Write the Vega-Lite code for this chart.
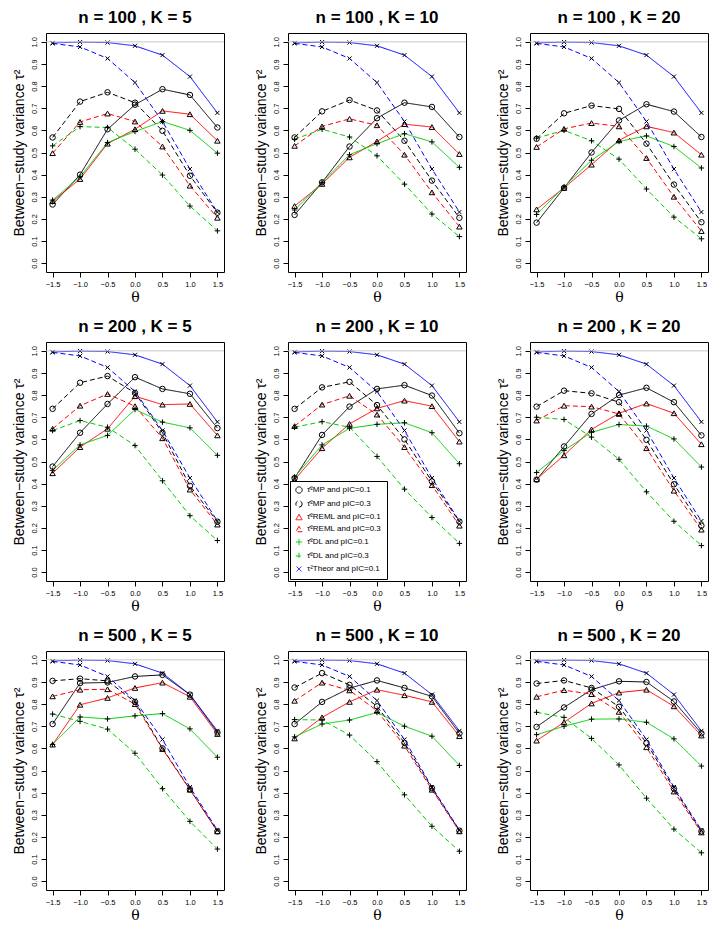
{
"$schema":"https://vega.github.io/schema/vega-lite/v6.json",
"padding":{"left":11,"top":8,"right":2,"bottom":1},
"data":{"values":[
{"p":1,"s":"M1","t":-1.5,"v":0.265},{"p":1,"s":"M1","t":-1,"v":0.400},{"p":1,"s":"M1","t":-0.5,"v":0.605},{"p":1,"s":"M1","t":0,"v":0.716},{"p":1,"s":"M1","t":0.5,"v":0.786},{"p":1,"s":"M1","t":1,"v":0.760},{"p":1,"s":"M1","t":1.5,"v":0.613},
{"p":1,"s":"M3","t":-1.5,"v":0.568},{"p":1,"s":"M3","t":-1,"v":0.730},{"p":1,"s":"M3","t":-0.5,"v":0.772},{"p":1,"s":"M3","t":0,"v":0.725},{"p":1,"s":"M3","t":0.5,"v":0.598},{"p":1,"s":"M3","t":1,"v":0.395},{"p":1,"s":"M3","t":1.5,"v":0.228},
{"p":1,"s":"R1","t":-1.5,"v":0.280},{"p":1,"s":"R1","t":-1,"v":0.380},{"p":1,"s":"R1","t":-0.5,"v":0.540},{"p":1,"s":"R1","t":0,"v":0.605},{"p":1,"s":"R1","t":0.5,"v":0.688},{"p":1,"s":"R1","t":1,"v":0.673},{"p":1,"s":"R1","t":1.5,"v":0.553},
{"p":1,"s":"R3","t":-1.5,"v":0.497},{"p":1,"s":"R3","t":-1,"v":0.638},{"p":1,"s":"R3","t":-0.5,"v":0.676},{"p":1,"s":"R3","t":0,"v":0.640},{"p":1,"s":"R3","t":0.5,"v":0.527},{"p":1,"s":"R3","t":1,"v":0.350},{"p":1,"s":"R3","t":1.5,"v":0.205},
{"p":1,"s":"D1","t":-1.5,"v":0.285},{"p":1,"s":"D1","t":-1,"v":0.390},{"p":1,"s":"D1","t":-0.5,"v":0.545},{"p":1,"s":"D1","t":0,"v":0.595},{"p":1,"s":"D1","t":0.5,"v":0.640},{"p":1,"s":"D1","t":1,"v":0.600},{"p":1,"s":"D1","t":1.5,"v":0.497},
{"p":1,"s":"D3","t":-1.5,"v":0.530},{"p":1,"s":"D3","t":-1,"v":0.617},{"p":1,"s":"D3","t":-0.5,"v":0.613},{"p":1,"s":"D3","t":0,"v":0.515},{"p":1,"s":"D3","t":0.5,"v":0.398},{"p":1,"s":"D3","t":1,"v":0.258},{"p":1,"s":"D3","t":1.5,"v":0.146},
{"p":1,"s":"T1","t":-1.5,"v":0.995},{"p":1,"s":"T1","t":-1,"v":0.999},{"p":1,"s":"T1","t":-0.5,"v":0.997},{"p":1,"s":"T1","t":0,"v":0.982},{"p":1,"s":"T1","t":0.5,"v":0.940},{"p":1,"s":"T1","t":1,"v":0.843},{"p":1,"s":"T1","t":1.5,"v":0.679},
{"p":1,"s":"T3","t":-1.5,"v":0.993},{"p":1,"s":"T3","t":-1,"v":0.977},{"p":1,"s":"T3","t":-0.5,"v":0.925},{"p":1,"s":"T3","t":0,"v":0.816},{"p":1,"s":"T3","t":0.5,"v":0.640},{"p":1,"s":"T3","t":1,"v":0.425},{"p":1,"s":"T3","t":1.5,"v":0.231},

{"p":2,"s":"M1","t":-1.5,"v":0.218},{"p":2,"s":"M1","t":-1,"v":0.365},{"p":2,"s":"M1","t":-0.5,"v":0.527},{"p":2,"s":"M1","t":0,"v":0.655},{"p":2,"s":"M1","t":0.5,"v":0.725},{"p":2,"s":"M1","t":1,"v":0.706},{"p":2,"s":"M1","t":1.5,"v":0.570},
{"p":2,"s":"M3","t":-1.5,"v":0.568},{"p":2,"s":"M3","t":-1,"v":0.686},{"p":2,"s":"M3","t":-0.5,"v":0.737},{"p":2,"s":"M3","t":0,"v":0.690},{"p":2,"s":"M3","t":0.5,"v":0.553},{"p":2,"s":"M3","t":1,"v":0.373},{"p":2,"s":"M3","t":1.5,"v":0.205},
{"p":2,"s":"R1","t":-1.5,"v":0.258},{"p":2,"s":"R1","t":-1,"v":0.358},{"p":2,"s":"R1","t":-0.5,"v":0.478},{"p":2,"s":"R1","t":0,"v":0.550},{"p":2,"s":"R1","t":0.5,"v":0.628},{"p":2,"s":"R1","t":1,"v":0.615},{"p":2,"s":"R1","t":1.5,"v":0.493},
{"p":2,"s":"R3","t":-1.5,"v":0.530},{"p":2,"s":"R3","t":-1,"v":0.618},{"p":2,"s":"R3","t":-0.5,"v":0.652},{"p":2,"s":"R3","t":0,"v":0.623},{"p":2,"s":"R3","t":0.5,"v":0.490},{"p":2,"s":"R3","t":1,"v":0.320},{"p":2,"s":"R3","t":1.5,"v":0.165},
{"p":2,"s":"D1","t":-1.5,"v":0.240},{"p":2,"s":"D1","t":-1,"v":0.365},{"p":2,"s":"D1","t":-0.5,"v":0.490},{"p":2,"s":"D1","t":0,"v":0.540},{"p":2,"s":"D1","t":0.5,"v":0.585},{"p":2,"s":"D1","t":1,"v":0.548},{"p":2,"s":"D1","t":1.5,"v":0.433},
{"p":2,"s":"D3","t":-1.5,"v":0.560},{"p":2,"s":"D3","t":-1,"v":0.605},{"p":2,"s":"D3","t":-0.5,"v":0.570},{"p":2,"s":"D3","t":0,"v":0.485},{"p":2,"s":"D3","t":0.5,"v":0.357},{"p":2,"s":"D3","t":1,"v":0.222},{"p":2,"s":"D3","t":1.5,"v":0.120},
{"p":2,"s":"T1","t":-1.5,"v":0.995},{"p":2,"s":"T1","t":-1,"v":0.999},{"p":2,"s":"T1","t":-0.5,"v":0.997},{"p":2,"s":"T1","t":0,"v":0.982},{"p":2,"s":"T1","t":0.5,"v":0.940},{"p":2,"s":"T1","t":1,"v":0.843},{"p":2,"s":"T1","t":1.5,"v":0.679},
{"p":2,"s":"T3","t":-1.5,"v":0.993},{"p":2,"s":"T3","t":-1,"v":0.977},{"p":2,"s":"T3","t":-0.5,"v":0.925},{"p":2,"s":"T3","t":0,"v":0.816},{"p":2,"s":"T3","t":0.5,"v":0.640},{"p":2,"s":"T3","t":1,"v":0.425},{"p":2,"s":"T3","t":1.5,"v":0.231},

{"p":3,"s":"M1","t":-1.5,"v":0.183},{"p":3,"s":"M1","t":-1,"v":0.340},{"p":3,"s":"M1","t":-0.5,"v":0.500},{"p":3,"s":"M1","t":0,"v":0.645},{"p":3,"s":"M1","t":0.5,"v":0.718},{"p":3,"s":"M1","t":1,"v":0.685},{"p":3,"s":"M1","t":1.5,"v":0.570},
{"p":3,"s":"M3","t":-1.5,"v":0.562},{"p":3,"s":"M3","t":-1,"v":0.677},{"p":3,"s":"M3","t":-0.5,"v":0.712},{"p":3,"s":"M3","t":0,"v":0.697},{"p":3,"s":"M3","t":0.5,"v":0.540},{"p":3,"s":"M3","t":1,"v":0.355},{"p":3,"s":"M3","t":1.5,"v":0.185},
{"p":3,"s":"R1","t":-1.5,"v":0.243},{"p":3,"s":"R1","t":-1,"v":0.340},{"p":3,"s":"R1","t":-0.5,"v":0.445},{"p":3,"s":"R1","t":0,"v":0.555},{"p":3,"s":"R1","t":0.5,"v":0.618},{"p":3,"s":"R1","t":1,"v":0.590},{"p":3,"s":"R1","t":1.5,"v":0.490},
{"p":3,"s":"R3","t":-1.5,"v":0.525},{"p":3,"s":"R3","t":-1,"v":0.607},{"p":3,"s":"R3","t":-0.5,"v":0.633},{"p":3,"s":"R3","t":0,"v":0.618},{"p":3,"s":"R3","t":0.5,"v":0.475},{"p":3,"s":"R3","t":1,"v":0.300},{"p":3,"s":"R3","t":1.5,"v":0.145},
{"p":3,"s":"D1","t":-1.5,"v":0.220},{"p":3,"s":"D1","t":-1,"v":0.345},{"p":3,"s":"D1","t":-0.5,"v":0.465},{"p":3,"s":"D1","t":0,"v":0.550},{"p":3,"s":"D1","t":0.5,"v":0.575},{"p":3,"s":"D1","t":1,"v":0.527},{"p":3,"s":"D1","t":1.5,"v":0.430},
{"p":3,"s":"D3","t":-1.5,"v":0.565},{"p":3,"s":"D3","t":-1,"v":0.600},{"p":3,"s":"D3","t":-0.5,"v":0.553},{"p":3,"s":"D3","t":0,"v":0.470},{"p":3,"s":"D3","t":0.5,"v":0.335},{"p":3,"s":"D3","t":1,"v":0.208},{"p":3,"s":"D3","t":1.5,"v":0.110},
{"p":3,"s":"T1","t":-1.5,"v":0.995},{"p":3,"s":"T1","t":-1,"v":0.999},{"p":3,"s":"T1","t":-0.5,"v":0.997},{"p":3,"s":"T1","t":0,"v":0.982},{"p":3,"s":"T1","t":0.5,"v":0.940},{"p":3,"s":"T1","t":1,"v":0.843},{"p":3,"s":"T1","t":1.5,"v":0.679},
{"p":3,"s":"T3","t":-1.5,"v":0.993},{"p":3,"s":"T3","t":-1,"v":0.977},{"p":3,"s":"T3","t":-0.5,"v":0.925},{"p":3,"s":"T3","t":0,"v":0.816},{"p":3,"s":"T3","t":0.5,"v":0.640},{"p":3,"s":"T3","t":1,"v":0.425},{"p":3,"s":"T3","t":1.5,"v":0.231},

{"p":4,"s":"M1","t":-1.5,"v":0.477},{"p":4,"s":"M1","t":-1,"v":0.630},{"p":4,"s":"M1","t":-0.5,"v":0.760},{"p":4,"s":"M1","t":0,"v":0.881},{"p":4,"s":"M1","t":0.5,"v":0.828},{"p":4,"s":"M1","t":1,"v":0.806},{"p":4,"s":"M1","t":1.5,"v":0.651},
{"p":4,"s":"M3","t":-1.5,"v":0.738},{"p":4,"s":"M3","t":-1,"v":0.856},{"p":4,"s":"M3","t":-0.5,"v":0.886},{"p":4,"s":"M3","t":0,"v":0.810},{"p":4,"s":"M3","t":0.5,"v":0.630},{"p":4,"s":"M3","t":1,"v":0.390},{"p":4,"s":"M3","t":1.5,"v":0.228},
{"p":4,"s":"R1","t":-1.5,"v":0.447},{"p":4,"s":"R1","t":-1,"v":0.565},{"p":4,"s":"R1","t":-0.5,"v":0.648},{"p":4,"s":"R1","t":0,"v":0.795},{"p":4,"s":"R1","t":0.5,"v":0.757},{"p":4,"s":"R1","t":1,"v":0.760},{"p":4,"s":"R1","t":1.5,"v":0.618},
{"p":4,"s":"R3","t":-1.5,"v":0.648},{"p":4,"s":"R3","t":-1,"v":0.752},{"p":4,"s":"R3","t":-0.5,"v":0.805},{"p":4,"s":"R3","t":0,"v":0.750},{"p":4,"s":"R3","t":0.5,"v":0.605},{"p":4,"s":"R3","t":1,"v":0.373},{"p":4,"s":"R3","t":1.5,"v":0.215},
{"p":4,"s":"D1","t":-1.5,"v":0.460},{"p":4,"s":"D1","t":-1,"v":0.575},{"p":4,"s":"D1","t":-0.5,"v":0.618},{"p":4,"s":"D1","t":0,"v":0.735},{"p":4,"s":"D1","t":0.5,"v":0.678},{"p":4,"s":"D1","t":1,"v":0.652},{"p":4,"s":"D1","t":1.5,"v":0.528},
{"p":4,"s":"D3","t":-1.5,"v":0.640},{"p":4,"s":"D3","t":-1,"v":0.685},{"p":4,"s":"D3","t":-0.5,"v":0.655},{"p":4,"s":"D3","t":0,"v":0.572},{"p":4,"s":"D3","t":0.5,"v":0.413},{"p":4,"s":"D3","t":1,"v":0.255},{"p":4,"s":"D3","t":1.5,"v":0.143},
{"p":4,"s":"T1","t":-1.5,"v":0.995},{"p":4,"s":"T1","t":-1,"v":0.999},{"p":4,"s":"T1","t":-0.5,"v":0.997},{"p":4,"s":"T1","t":0,"v":0.982},{"p":4,"s":"T1","t":0.5,"v":0.940},{"p":4,"s":"T1","t":1,"v":0.843},{"p":4,"s":"T1","t":1.5,"v":0.679},
{"p":4,"s":"T3","t":-1.5,"v":0.993},{"p":4,"s":"T3","t":-1,"v":0.977},{"p":4,"s":"T3","t":-0.5,"v":0.925},{"p":4,"s":"T3","t":0,"v":0.816},{"p":4,"s":"T3","t":0.5,"v":0.640},{"p":4,"s":"T3","t":1,"v":0.425},{"p":4,"s":"T3","t":1.5,"v":0.231},

{"p":5,"s":"M1","t":-1.5,"v":0.425},{"p":5,"s":"M1","t":-1,"v":0.620},{"p":5,"s":"M1","t":-0.5,"v":0.748},{"p":5,"s":"M1","t":0,"v":0.828},{"p":5,"s":"M1","t":0.5,"v":0.845},{"p":5,"s":"M1","t":1,"v":0.798},{"p":5,"s":"M1","t":1.5,"v":0.628},
{"p":5,"s":"M3","t":-1.5,"v":0.738},{"p":5,"s":"M3","t":-1,"v":0.835},{"p":5,"s":"M3","t":-0.5,"v":0.860},{"p":5,"s":"M3","t":0,"v":0.755},{"p":5,"s":"M3","t":0.5,"v":0.600},{"p":5,"s":"M3","t":1,"v":0.410},{"p":5,"s":"M3","t":1.5,"v":0.228},
{"p":5,"s":"R1","t":-1.5,"v":0.418},{"p":5,"s":"R1","t":-1,"v":0.560},{"p":5,"s":"R1","t":-0.5,"v":0.670},{"p":5,"s":"R1","t":0,"v":0.740},{"p":5,"s":"R1","t":0.5,"v":0.775},{"p":5,"s":"R1","t":1,"v":0.750},{"p":5,"s":"R1","t":1.5,"v":0.590},
{"p":5,"s":"R3","t":-1.5,"v":0.660},{"p":5,"s":"R3","t":-1,"v":0.757},{"p":5,"s":"R3","t":-0.5,"v":0.797},{"p":5,"s":"R3","t":0,"v":0.712},{"p":5,"s":"R3","t":0.5,"v":0.565},{"p":5,"s":"R3","t":1,"v":0.393},{"p":5,"s":"R3","t":1.5,"v":0.210},
{"p":5,"s":"D1","t":-1.5,"v":0.430},{"p":5,"s":"D1","t":-1,"v":0.575},{"p":5,"s":"D1","t":-0.5,"v":0.650},{"p":5,"s":"D1","t":0,"v":0.668},{"p":5,"s":"D1","t":0.5,"v":0.675},{"p":5,"s":"D1","t":1,"v":0.630},{"p":5,"s":"D1","t":1.5,"v":0.490},
{"p":5,"s":"D3","t":-1.5,"v":0.655},{"p":5,"s":"D3","t":-1,"v":0.680},{"p":5,"s":"D3","t":-0.5,"v":0.655},{"p":5,"s":"D3","t":0,"v":0.523},{"p":5,"s":"D3","t":0.5,"v":0.375},{"p":5,"s":"D3","t":1,"v":0.247},{"p":5,"s":"D3","t":1.5,"v":0.130},
{"p":5,"s":"T1","t":-1.5,"v":0.995},{"p":5,"s":"T1","t":-1,"v":0.999},{"p":5,"s":"T1","t":-0.5,"v":0.997},{"p":5,"s":"T1","t":0,"v":0.982},{"p":5,"s":"T1","t":0.5,"v":0.940},{"p":5,"s":"T1","t":1,"v":0.843},{"p":5,"s":"T1","t":1.5,"v":0.679},
{"p":5,"s":"T3","t":-1.5,"v":0.993},{"p":5,"s":"T3","t":-1,"v":0.977},{"p":5,"s":"T3","t":-0.5,"v":0.925},{"p":5,"s":"T3","t":0,"v":0.816},{"p":5,"s":"T3","t":0.5,"v":0.640},{"p":5,"s":"T3","t":1,"v":0.425},{"p":5,"s":"T3","t":1.5,"v":0.231},

{"p":6,"s":"M1","t":-1.5,"v":0.418},{"p":6,"s":"M1","t":-1,"v":0.568},{"p":6,"s":"M1","t":-0.5,"v":0.715},{"p":6,"s":"M1","t":0,"v":0.800},{"p":6,"s":"M1","t":0.5,"v":0.833},{"p":6,"s":"M1","t":1,"v":0.768},{"p":6,"s":"M1","t":1.5,"v":0.618},
{"p":6,"s":"M3","t":-1.5,"v":0.748},{"p":6,"s":"M3","t":-1,"v":0.820},{"p":6,"s":"M3","t":-0.5,"v":0.808},{"p":6,"s":"M3","t":0,"v":0.768},{"p":6,"s":"M3","t":0.5,"v":0.598},{"p":6,"s":"M3","t":1,"v":0.397},{"p":6,"s":"M3","t":1.5,"v":0.210},
{"p":6,"s":"R1","t":-1.5,"v":0.420},{"p":6,"s":"R1","t":-1,"v":0.528},{"p":6,"s":"R1","t":-0.5,"v":0.645},{"p":6,"s":"R1","t":0,"v":0.718},{"p":6,"s":"R1","t":0.5,"v":0.762},{"p":6,"s":"R1","t":1,"v":0.718},{"p":6,"s":"R1","t":1.5,"v":0.578},
{"p":6,"s":"R3","t":-1.5,"v":0.685},{"p":6,"s":"R3","t":-1,"v":0.752},{"p":6,"s":"R3","t":-0.5,"v":0.748},{"p":6,"s":"R3","t":0,"v":0.715},{"p":6,"s":"R3","t":0.5,"v":0.560},{"p":6,"s":"R3","t":1,"v":0.368},{"p":6,"s":"R3","t":1.5,"v":0.192},
{"p":6,"s":"D1","t":-1.5,"v":0.450},{"p":6,"s":"D1","t":-1,"v":0.550},{"p":6,"s":"D1","t":-0.5,"v":0.632},{"p":6,"s":"D1","t":0,"v":0.667},{"p":6,"s":"D1","t":0.5,"v":0.660},{"p":6,"s":"D1","t":1,"v":0.602},{"p":6,"s":"D1","t":1.5,"v":0.475},
{"p":6,"s":"D3","t":-1.5,"v":0.700},{"p":6,"s":"D3","t":-1,"v":0.690},{"p":6,"s":"D3","t":-0.5,"v":0.610},{"p":6,"s":"D3","t":0,"v":0.510},{"p":6,"s":"D3","t":0.5,"v":0.363},{"p":6,"s":"D3","t":1,"v":0.230},{"p":6,"s":"D3","t":1.5,"v":0.120},
{"p":6,"s":"T1","t":-1.5,"v":0.995},{"p":6,"s":"T1","t":-1,"v":0.999},{"p":6,"s":"T1","t":-0.5,"v":0.997},{"p":6,"s":"T1","t":0,"v":0.982},{"p":6,"s":"T1","t":0.5,"v":0.940},{"p":6,"s":"T1","t":1,"v":0.843},{"p":6,"s":"T1","t":1.5,"v":0.679},
{"p":6,"s":"T3","t":-1.5,"v":0.993},{"p":6,"s":"T3","t":-1,"v":0.977},{"p":6,"s":"T3","t":-0.5,"v":0.925},{"p":6,"s":"T3","t":0,"v":0.816},{"p":6,"s":"T3","t":0.5,"v":0.640},{"p":6,"s":"T3","t":1,"v":0.425},{"p":6,"s":"T3","t":1.5,"v":0.231},

{"p":7,"s":"M1","t":-1.5,"v":0.710},{"p":7,"s":"M1","t":-1,"v":0.895},{"p":7,"s":"M1","t":-0.5,"v":0.898},{"p":7,"s":"M1","t":0,"v":0.925},{"p":7,"s":"M1","t":0.5,"v":0.932},{"p":7,"s":"M1","t":1,"v":0.843},{"p":7,"s":"M1","t":1.5,"v":0.672},
{"p":7,"s":"M3","t":-1.5,"v":0.905},{"p":7,"s":"M3","t":-1,"v":0.915},{"p":7,"s":"M3","t":-0.5,"v":0.905},{"p":7,"s":"M3","t":0,"v":0.810},{"p":7,"s":"M3","t":0.5,"v":0.600},{"p":7,"s":"M3","t":1,"v":0.415},{"p":7,"s":"M3","t":1.5,"v":0.225},
{"p":7,"s":"R1","t":-1.5,"v":0.617},{"p":7,"s":"R1","t":-1,"v":0.797},{"p":7,"s":"R1","t":-0.5,"v":0.828},{"p":7,"s":"R1","t":0,"v":0.873},{"p":7,"s":"R1","t":0.5,"v":0.897},{"p":7,"s":"R1","t":1,"v":0.833},{"p":7,"s":"R1","t":1.5,"v":0.665},
{"p":7,"s":"R3","t":-1.5,"v":0.835},{"p":7,"s":"R3","t":-1,"v":0.865},{"p":7,"s":"R3","t":-0.5,"v":0.867},{"p":7,"s":"R3","t":0,"v":0.800},{"p":7,"s":"R3","t":0.5,"v":0.597},{"p":7,"s":"R3","t":1,"v":0.413},{"p":7,"s":"R3","t":1.5,"v":0.225},
{"p":7,"s":"D1","t":-1.5,"v":0.618},{"p":7,"s":"D1","t":-1,"v":0.742},{"p":7,"s":"D1","t":-0.5,"v":0.733},{"p":7,"s":"D1","t":0,"v":0.747},{"p":7,"s":"D1","t":0.5,"v":0.757},{"p":7,"s":"D1","t":1,"v":0.688},{"p":7,"s":"D1","t":1.5,"v":0.560},
{"p":7,"s":"D3","t":-1.5,"v":0.755},{"p":7,"s":"D3","t":-1,"v":0.722},{"p":7,"s":"D3","t":-0.5,"v":0.687},{"p":7,"s":"D3","t":0,"v":0.578},{"p":7,"s":"D3","t":0.5,"v":0.418},{"p":7,"s":"D3","t":1,"v":0.270},{"p":7,"s":"D3","t":1.5,"v":0.145},
{"p":7,"s":"T1","t":-1.5,"v":0.995},{"p":7,"s":"T1","t":-1,"v":0.999},{"p":7,"s":"T1","t":-0.5,"v":0.997},{"p":7,"s":"T1","t":0,"v":0.982},{"p":7,"s":"T1","t":0.5,"v":0.940},{"p":7,"s":"T1","t":1,"v":0.843},{"p":7,"s":"T1","t":1.5,"v":0.679},
{"p":7,"s":"T3","t":-1.5,"v":0.993},{"p":7,"s":"T3","t":-1,"v":0.977},{"p":7,"s":"T3","t":-0.5,"v":0.925},{"p":7,"s":"T3","t":0,"v":0.816},{"p":7,"s":"T3","t":0.5,"v":0.640},{"p":7,"s":"T3","t":1,"v":0.425},{"p":7,"s":"T3","t":1.5,"v":0.231},

{"p":8,"s":"M1","t":-1.5,"v":0.710},{"p":8,"s":"M1","t":-1,"v":0.810},{"p":8,"s":"M1","t":-0.5,"v":0.872},{"p":8,"s":"M1","t":0,"v":0.907},{"p":8,"s":"M1","t":0.5,"v":0.873},{"p":8,"s":"M1","t":1,"v":0.835},{"p":8,"s":"M1","t":1.5,"v":0.668},
{"p":8,"s":"M3","t":-1.5,"v":0.875},{"p":8,"s":"M3","t":-1,"v":0.940},{"p":8,"s":"M3","t":-0.5,"v":0.887},{"p":8,"s":"M3","t":0,"v":0.790},{"p":8,"s":"M3","t":0.5,"v":0.625},{"p":8,"s":"M3","t":1,"v":0.420},{"p":8,"s":"M3","t":1.5,"v":0.228},
{"p":8,"s":"R1","t":-1.5,"v":0.645},{"p":8,"s":"R1","t":-1,"v":0.740},{"p":8,"s":"R1","t":-0.5,"v":0.810},{"p":8,"s":"R1","t":0,"v":0.865},{"p":8,"s":"R1","t":0.5,"v":0.840},{"p":8,"s":"R1","t":1,"v":0.810},{"p":8,"s":"R1","t":1.5,"v":0.655},
{"p":8,"s":"R3","t":-1.5,"v":0.815},{"p":8,"s":"R3","t":-1,"v":0.897},{"p":8,"s":"R3","t":-0.5,"v":0.862},{"p":8,"s":"R3","t":0,"v":0.770},{"p":8,"s":"R3","t":0.5,"v":0.612},{"p":8,"s":"R3","t":1,"v":0.413},{"p":8,"s":"R3","t":1.5,"v":0.225},
{"p":8,"s":"D1","t":-1.5,"v":0.652},{"p":8,"s":"D1","t":-1,"v":0.710},{"p":8,"s":"D1","t":-0.5,"v":0.728},{"p":8,"s":"D1","t":0,"v":0.762},{"p":8,"s":"D1","t":0.5,"v":0.700},{"p":8,"s":"D1","t":1,"v":0.655},{"p":8,"s":"D1","t":1.5,"v":0.523},
{"p":8,"s":"D3","t":-1.5,"v":0.730},{"p":8,"s":"D3","t":-1,"v":0.728},{"p":8,"s":"D3","t":-0.5,"v":0.660},{"p":8,"s":"D3","t":0,"v":0.540},{"p":8,"s":"D3","t":0.5,"v":0.390},{"p":8,"s":"D3","t":1,"v":0.248},{"p":8,"s":"D3","t":1.5,"v":0.135},
{"p":8,"s":"T1","t":-1.5,"v":0.995},{"p":8,"s":"T1","t":-1,"v":0.999},{"p":8,"s":"T1","t":-0.5,"v":0.997},{"p":8,"s":"T1","t":0,"v":0.982},{"p":8,"s":"T1","t":0.5,"v":0.940},{"p":8,"s":"T1","t":1,"v":0.843},{"p":8,"s":"T1","t":1.5,"v":0.679},
{"p":8,"s":"T3","t":-1.5,"v":0.993},{"p":8,"s":"T3","t":-1,"v":0.977},{"p":8,"s":"T3","t":-0.5,"v":0.925},{"p":8,"s":"T3","t":0,"v":0.816},{"p":8,"s":"T3","t":0.5,"v":0.640},{"p":8,"s":"T3","t":1,"v":0.425},{"p":8,"s":"T3","t":1.5,"v":0.231},

{"p":9,"s":"M1","t":-1.5,"v":0.697},{"p":9,"s":"M1","t":-1,"v":0.785},{"p":9,"s":"M1","t":-0.5,"v":0.865},{"p":9,"s":"M1","t":0,"v":0.903},{"p":9,"s":"M1","t":0.5,"v":0.900},{"p":9,"s":"M1","t":1,"v":0.812},{"p":9,"s":"M1","t":1.5,"v":0.668},
{"p":9,"s":"M3","t":-1.5,"v":0.893},{"p":9,"s":"M3","t":-1,"v":0.907},{"p":9,"s":"M3","t":-0.5,"v":0.873},{"p":9,"s":"M3","t":0,"v":0.788},{"p":9,"s":"M3","t":0.5,"v":0.625},{"p":9,"s":"M3","t":1,"v":0.418},{"p":9,"s":"M3","t":1.5,"v":0.225},
{"p":9,"s":"R1","t":-1.5,"v":0.635},{"p":9,"s":"R1","t":-1,"v":0.718},{"p":9,"s":"R1","t":-0.5,"v":0.803},{"p":9,"s":"R1","t":0,"v":0.852},{"p":9,"s":"R1","t":0.5,"v":0.865},{"p":9,"s":"R1","t":1,"v":0.790},{"p":9,"s":"R1","t":1.5,"v":0.658},
{"p":9,"s":"R3","t":-1.5,"v":0.833},{"p":9,"s":"R3","t":-1,"v":0.863},{"p":9,"s":"R3","t":-0.5,"v":0.845},{"p":9,"s":"R3","t":0,"v":0.765},{"p":9,"s":"R3","t":0.5,"v":0.605},{"p":9,"s":"R3","t":1,"v":0.405},{"p":9,"s":"R3","t":1.5,"v":0.220},
{"p":9,"s":"D1","t":-1.5,"v":0.662},{"p":9,"s":"D1","t":-1,"v":0.700},{"p":9,"s":"D1","t":-0.5,"v":0.732},{"p":9,"s":"D1","t":0,"v":0.733},{"p":9,"s":"D1","t":0.5,"v":0.718},{"p":9,"s":"D1","t":1,"v":0.643},{"p":9,"s":"D1","t":1.5,"v":0.520},
{"p":9,"s":"D3","t":-1.5,"v":0.763},{"p":9,"s":"D3","t":-1,"v":0.740},{"p":9,"s":"D3","t":-0.5,"v":0.645},{"p":9,"s":"D3","t":0,"v":0.525},{"p":9,"s":"D3","t":0.5,"v":0.375},{"p":9,"s":"D3","t":1,"v":0.235},{"p":9,"s":"D3","t":1.5,"v":0.128},
{"p":9,"s":"T1","t":-1.5,"v":0.995},{"p":9,"s":"T1","t":-1,"v":0.999},{"p":9,"s":"T1","t":-0.5,"v":0.997},{"p":9,"s":"T1","t":0,"v":0.982},{"p":9,"s":"T1","t":0.5,"v":0.940},{"p":9,"s":"T1","t":1,"v":0.843},{"p":9,"s":"T1","t":1.5,"v":0.679},
{"p":9,"s":"T3","t":-1.5,"v":0.993},{"p":9,"s":"T3","t":-1,"v":0.977},{"p":9,"s":"T3","t":-0.5,"v":0.925},{"p":9,"s":"T3","t":0,"v":0.816},{"p":9,"s":"T3","t":0.5,"v":0.640},{"p":9,"s":"T3","t":1,"v":0.425},{"p":9,"s":"T3","t":1.5,"v":0.231}
]},
"facet":{"field":"p","type":"ordinal","sort":"ascending","header":{"title":null,"labelExpr":"{'1':'n = 100 , K = 5','2':'n = 100 , K = 10','3':'n = 100 , K = 20','4':'n = 200 , K = 5','5':'n = 200 , K = 10','6':'n = 200 , K = 20','7':'n = 500 , K = 5','8':'n = 500 , K = 10','9':'n = 500 , K = 20'}[datum.label]","labelFont":"Liberation Sans","labelFontSize":17,"labelFontWeight":"bold","labelColor":"black","labelPadding":6}},
"columns":3,
"spacing":{"row":12,"column":28},
"resolve":{"axis":{"x":"independent","y":"independent"}},
"spec":{
 "width":178,"height":239,
 "layer":[
  {"mark":{"type":"line","strokeWidth":1},
   "encoding":{
    "x":{"field":"t","type":"quantitative","scale":{"domain":[-1.62,1.62],"nice":false,"zero":false},
      "axis":{"values":[-1.5,-1,-0.5,0,0.5,1,1.5],"tickCount":20,"format":".1f","title":"θ","grid":false,"domain":false,"tickColor":"black","tickSize":5,"labelFontSize":7.5,"labelColor":"black","labelFont":"Liberation Sans","labelOverlap":false,"labelBound":false,"titleFont":"DejaVu Serif","titleFontSize":14,"titleFontWeight":"normal","titleColor":"black","titlePadding":3,"labelPadding":3}},
    "y":{"field":"v","type":"quantitative","scale":{"domain":[-0.04,1.04],"nice":false,"zero":false},
      "axis":{"values":[0,0.1,0.2,0.3,0.4,0.5,0.6,0.7,0.8,0.9,1],"tickCount":20,"format":".1f","title":"Between−study variance τ²","grid":false,"domain":false,"tickColor":"black","tickSize":5,"labelFontSize":7.5,"labelAngle":-90,"labelColor":"black","labelFont":"Liberation Sans","labelOverlap":false,"labelBound":false,"titleFont":"Liberation Sans","titleFontSize":14,"titleFontWeight":"normal","titleColor":"black","titlePadding":4,"labelPadding":3}},
    "color":{"field":"s","type":"nominal","scale":{"domain":["M1","M3","R1","R3","D1","D3","T1","T3"],"range":["#000000","#000000","#ff0000","#ff0000","#00cd00","#00cd00","#0000ff","#0000ff"]},
      "legend":{"values":["M1","M3","R1","R3","D1","D3","T1"],"title":null,"orient":"none","legendX":244,"legendY":448,"labelExpr":"{'M1':'τ̂²MP and pIC=0.1','M3':'τ̂²MP and pIC=0.3','R1':'τ̂²REML and pIC=0.1','R3':'τ̂²REML and pIC=0.3','D1':'τ̂²DL and pIC=0.1','D3':'τ̂²DL and pIC=0.3','T1':'τ²Theor and pIC=0.1'}[datum.label]","labelFontSize":8,"labelFont":"Liberation Sans","labelColor":"black","strokeColor":"black","fillColor":"white","padding":5,"rowPadding":2,"symbolSize":40,"symbolStrokeWidth":1}},
    "strokeDash":{"field":"s","type":"nominal","scale":{"domain":["M1","M3","R1","R3","D1","D3","T1","T3"],"range":[[1,0],[5,3],[1,0],[5,3],[1,0],[5,3],[1,0],[5,3]]},"legend":null}
   }},
  {"mark":{"type":"point","filled":false,"stroke":"black","strokeWidth":1,"size":30,"opacity":1},
   "encoding":{
    "x":{"field":"t","type":"quantitative"},
    "y":{"field":"v","type":"quantitative"},
    "shape":{"field":"s","type":"nominal","scale":{"domain":["M1","M3","R1","R3","D1","D3","T1","T3"],"range":["circle","circle","triangle-up","triangle-up","M-1,0L1,0M0,-1L0,1","M-1,0L1,0M0,-1L0,1","M-0.75,-0.75L0.75,0.75M-0.75,0.75L0.75,-0.75","M-0.75,-0.75L0.75,0.75M-0.75,0.75L0.75,-0.75"]},
      "legend":{"values":["M1","M3","R1","R3","D1","D3","T1"],"title":null,"orient":"none","legendX":244,"legendY":448,"labelExpr":"{'M1':'τ̂²MP and pIC=0.1','M3':'τ̂²MP and pIC=0.3','R1':'τ̂²REML and pIC=0.1','R3':'τ̂²REML and pIC=0.3','D1':'τ̂²DL and pIC=0.1','D3':'τ̂²DL and pIC=0.3','T1':'τ²Theor and pIC=0.1'}[datum.label]","labelFontSize":8,"labelFont":"Liberation Sans","labelColor":"black","strokeColor":"black","fillColor":"white","padding":5,"rowPadding":2,"symbolSize":40,"symbolStrokeWidth":1}}
   }},
  {"transform":[{"filter":"datum.s=='T1' && datum.t==0"}],
   "mark":{"type":"rule","color":"#c8c8c8","strokeWidth":1},
   "encoding":{"y":{"datum":1,"type":"quantitative"}}}
 ]
},
"config":{"view":{"stroke":"black","strokeWidth":1},"background":"white","font":"Liberation Sans","axis":{"labelOverlap":false}}
}
